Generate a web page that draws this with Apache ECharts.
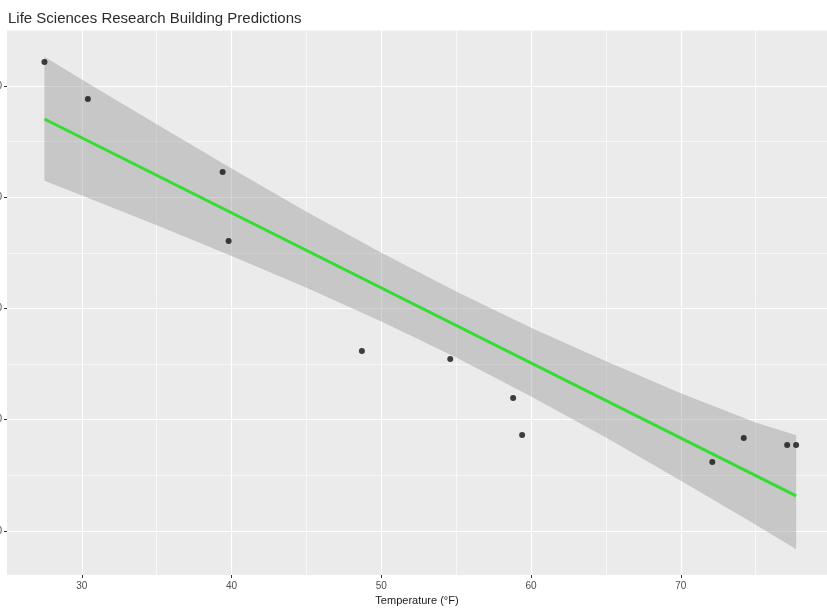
<!DOCTYPE html>
<html>
<head>
<meta charset="utf-8">
<script src="https://cdn.jsdelivr.net/npm/echarts@6/dist/echarts.min.js"></script>
<style>
  html, body { margin: 0; padding: 0; background: #fff; }
  #main { width: 827px; height: 610px; }
</style>
</head>
<body>
<div id="main"></div>
<script>
// 观测点 (温度, 用量)
var pointTemp = [27.5, 30.4, 39.4, 39.8, 48.7, 54.6, 58.8, 59.4, 72.1, 74.2, 77.1, 77.7];
var pointValue = [6216, 5883, 5227, 4607, 3618, 3546, 3196, 2863, 2620, 2836, 2773, 2773];

// 拟合线
var fitTemp = [27.5, 77.7];
var fitValue = [5703, 2315];

// 置信带
var bandTemp = [27.5, 30, 35, 40, 45, 50, 55, 60, 65, 70, 75, 77.7];
var bandUpper = [6262, 6059, 5655, 5257, 4870, 4500, 4152, 3827, 3525, 3238, 2975, 2860];
var bandLower = [5148, 5015, 4747, 4471, 4186, 3883, 3558, 3209, 2839, 2452, 2055, 1836];

// 刻度
var xTicks = [30, 40, 50, 60, 70];
var xMinor = [35, 45, 55, 65, 75];
var yTicks = [2000, 3000, 4000, 5000, 6000];
var yMinor = [2500, 3500, 4500, 5500, 6500];

var fitData = fitTemp.map(function (t, i) { return [t, fitValue[i]]; });
var pointData = pointTemp.map(function (t, i) { return [t, pointValue[i]]; });

// 网格线 (ggplot 风格)
var gridLines = [];
xTicks.forEach(function (v) { gridLines.push({ xAxis: v, lineStyle: { color: '#ffffff', width: 1.2, type: 'solid' } }); });
xMinor.forEach(function (v) { gridLines.push({ xAxis: v, lineStyle: { color: '#ffffff', width: 0.6, type: 'solid' } }); });
yTicks.forEach(function (v) { gridLines.push({ yAxis: v, lineStyle: { color: '#ffffff', width: 1.2, type: 'solid' } }); });
yMinor.forEach(function (v) { gridLines.push({ yAxis: v, lineStyle: { color: '#ffffff', width: 0.6, type: 'solid' } }); });

// 置信带多边形
function renderBand(params, api) {
  var pts = [];
  for (var i = 0; i < bandTemp.length; i++) {
    pts.push(api.coord([bandTemp[i], bandUpper[i]]));
  }
  for (var j = bandTemp.length - 1; j >= 0; j--) {
    pts.push(api.coord([bandTemp[j], bandLower[j]]));
  }
  return {
    type: 'polygon',
    shape: { points: pts },
    style: { fill: 'rgba(150,150,150,0.42)' }
  };
}

var fontFam = 'Liberation Sans, Arial, sans-serif';

var chart = echarts.init(document.getElementById('main'));
var option = {
  animation: false,
  backgroundColor: '#ffffff',
  title: {
    text: 'Life Sciences Research Building Predictions',
    left: 3,
    top: 6,
    textStyle: { fontFamily: fontFam, fontSize: 15, fontWeight: 'normal', color: '#2b2b2b' }
  },
  grid: {
    left: 7,
    right: 0,
    top: 30,
    bottom: 35,
    containLabel: false,
    outerBoundsMode: 'none',
    show: true,
    backgroundColor: '#ebebeb',
    borderWidth: 0
  },
  xAxis: {
    type: 'value',
    min: 25,
    max: 79.76,
    name: 'Temperature (°F)',
    nameLocation: 'middle',
    nameGap: 20,
    nameTextStyle: { fontFamily: fontFam, fontSize: 11, color: '#1a1a1a' },
    axisLine: { show: false },
    splitLine: { show: false },
    axisTick: { show: true, length: 3, lineStyle: { color: '#333333' }, customValues: xTicks },
    axisLabel: {
      customValues: xTicks,
      margin: 6,
      formatter: function (v) { return String(v); },
      fontFamily: fontFam,
      fontSize: 10,
      color: '#4d4d4d'
    }
  },
  yAxis: {
    type: 'value',
    min: 1604,
    max: 6503,
    axisLine: { show: false },
    splitLine: { show: false },
    axisTick: { show: true, length: 3, lineStyle: { color: '#333333' }, customValues: yTicks },
    axisLabel: {
      customValues: yTicks,
      margin: 5,
      formatter: function (v) { return String(v); },
      fontFamily: fontFam,
      fontSize: 10,
      color: '#4d4d4d'
    }
  },
  series: [
    {
      name: 'grid',
      type: 'line',
      data: [],
      z: 1,
      silent: true,
      markLine: {
        silent: true,
        symbol: ['none', 'none'],
        label: { show: false },
        z: 1,
        data: gridLines
      }
    },
    {
      name: 'band',
      type: 'custom',
      renderItem: renderBand,
      data: [0],
      z: 2,
      silent: true
    },
    {
      name: 'fit',
      type: 'line',
      data: fitData,
      symbol: 'none',
      lineStyle: { color: '#33dd33', width: 3 },
      z: 3
    },
    {
      name: 'obs',
      type: 'scatter',
      data: pointData,
      symbolSize: 6,
      itemStyle: { color: '#111111' },
      z: 4
    }
  ]
};
chart.setOption(option);

window.addEventListener('resize', function () {
  chart.resize();
});
</script>
</body>
</html>
